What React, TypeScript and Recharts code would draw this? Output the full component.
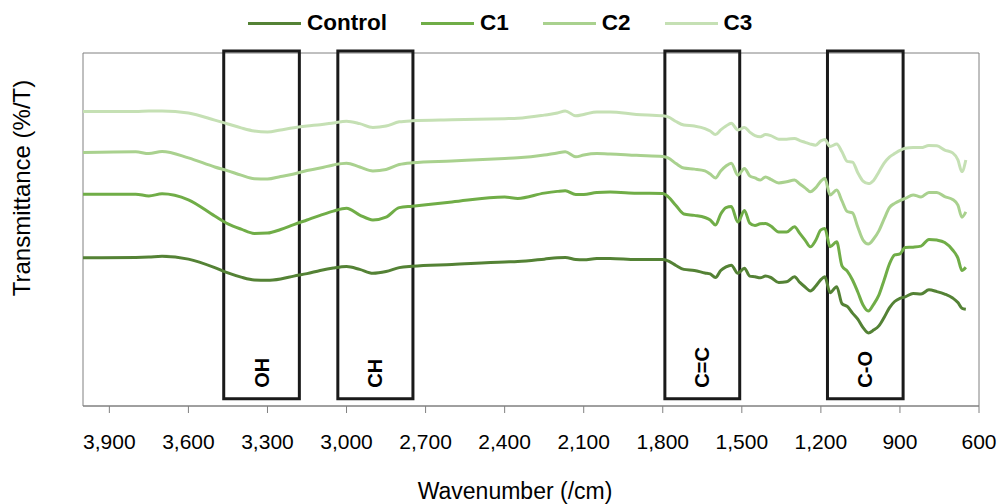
import React from 'react';
import { LineChart, Line, XAxis, YAxis, ReferenceArea, Legend, Label } from 'recharts';

// wavenumber (cm-1) sample positions
const wavenumbers = [
  4000, 3800, 3750, 3700, 3600, 3500, 3450, 3400, 3350, 3300,
  3250, 3200, 3150, 3100, 3050, 3000, 2950, 2900, 2850, 2800,
  2750, 2600, 2400, 2350, 2250, 2200, 2170, 2130, 2100, 2050,
  2000, 1900, 1800, 1780, 1750, 1720, 1680, 1640, 1620, 1600,
  1580, 1560, 1540, 1515, 1490, 1470, 1450, 1430, 1410, 1390,
  1360, 1330, 1300, 1280, 1260, 1240, 1220, 1200, 1185, 1165,
  1140, 1120, 1100, 1080, 1060, 1040, 1020, 1000, 980, 960,
  940, 920, 900, 880, 850, 820, 790, 760, 730, 700,
  680, 665, 650,
];

const control = [
  42.0, 42.1, 42.2, 42.4, 41.6, 39.2, 37.7, 36.5, 35.7, 35.6,
  36.0, 36.8, 37.5, 38.4, 39.1, 39.5, 38.7, 37.6, 38.1, 39.2,
  39.6, 40.1, 40.8, 40.9, 41.6, 42.0, 42.1, 41.5, 41.4, 41.8,
  41.8, 41.5, 41.5, 41.1, 39.8, 38.7, 38.4, 37.7, 37.4, 36.4,
  38.4, 39.4, 39.9, 37.6, 39.0, 36.8, 36.6, 36.3, 36.8, 36.4,
  35.0, 35.2, 36.6, 35.0, 33.7, 32.6, 33.9, 35.8, 36.6, 32.1,
  33.8, 29.0, 28.2, 26.3, 24.6, 22.2, 20.7, 21.5, 22.7, 25.1,
  27.8, 29.6, 30.5, 30.9, 31.9, 31.7, 32.9, 32.4, 31.7, 30.6,
  29.3, 27.7, 27.4,
];

const c1 = [
  60.0, 60.0, 59.5, 60.1, 58.4, 53.8, 51.6, 50.1, 48.9, 49.0,
  50.0, 51.4, 52.7, 54.0, 55.2, 56.0, 54.1, 52.7, 53.5, 56.2,
  56.6, 57.8, 59.2, 58.8, 60.3, 60.8, 61.0, 59.9, 59.9, 60.5,
  60.6, 60.3, 60.2, 59.3, 56.8, 54.4, 54.0, 53.4, 52.7, 51.3,
  54.4, 56.2, 56.5, 52.1, 55.4, 51.8, 51.1, 51.6, 51.7, 51.0,
  49.3, 49.3, 50.8, 48.9, 47.0, 45.1, 46.9, 49.9, 50.3, 45.1,
  46.5, 39.7, 38.2, 35.7, 32.3, 28.6, 26.9, 28.8, 31.4, 35.7,
  40.2, 42.8, 43.1, 44.9, 45.0, 45.3, 47.2, 47.0, 46.3, 44.2,
  41.9, 38.4, 39.3,
];

const c2 = [
  71.8, 72.0, 71.5, 72.1, 70.3, 67.7, 66.6, 65.4, 64.4, 64.3,
  65.0, 65.7, 66.7, 67.4, 68.3, 68.8, 67.7, 66.6, 67.0, 68.4,
  68.9, 69.4, 70.1, 70.3, 71.1, 71.7, 72.0, 70.6, 71.1, 71.5,
  71.4, 71.0, 70.7, 70.3, 68.7, 67.4, 67.1, 66.6, 65.7, 64.6,
  66.6, 68.0, 68.8, 65.4, 67.3, 65.2, 64.6, 64.0, 64.9, 64.2,
  63.2, 63.5, 64.0, 62.9, 61.8, 60.7, 61.8, 63.7, 64.5, 59.8,
  61.2, 58.1, 55.1, 54.7, 50.7, 47.0, 45.9, 47.3, 49.6, 53.0,
  56.2, 57.4, 58.2, 58.8, 59.8, 59.2, 60.5, 60.5, 59.3, 58.5,
  56.9, 53.5, 55.0,
];

const c3 = [
  83.4, 83.4, 83.6, 83.6, 83.0, 81.0, 79.9, 78.8, 77.9, 77.6,
  78.2, 78.8, 79.3, 79.7, 80.2, 80.7, 80.0, 78.9, 79.3, 80.5,
  80.8, 81.1, 81.4, 81.5, 82.4, 83.0, 83.6, 82.2, 82.6, 83.3,
  83.3, 82.6, 82.2, 81.9, 80.6, 79.6, 79.3, 78.6, 77.9, 76.9,
  78.2, 79.3, 80.1, 78.2, 78.9, 77.6, 76.6, 76.3, 76.9, 76.6,
  75.6, 75.6, 75.8, 75.2, 74.7, 74.2, 73.9, 75.1, 75.5, 73.5,
  74.2, 72.0, 69.3, 69.1, 66.1, 63.7, 63.0, 63.9, 66.3, 68.8,
  70.5, 71.5, 72.4, 73.0, 73.2, 73.2, 73.8, 73.7, 72.5, 71.7,
  69.7, 66.4, 69.7,
];

const xTicks = [3900, 3600, 3300, 3000, 2700, 2400, 2100, 1800, 1500, 1200, 900, 600];

// functional group bands: label, from, to (cm-1)
const bandLabels = ['OH', 'CH', 'C=C', 'C-O'];
const bandFrom = [3466, 3033, 1792, 1175];
const bandTo = [3179, 2748, 1508, 888];

const series = [
  { key: 'control', name: 'Control', color: '#548235' },
  { key: 'c1', name: 'C1', color: '#70AD47' },
  { key: 'c2', name: 'C2', color: '#A9D18E' },
  { key: 'c3', name: 'C3', color: '#C5E0B4' },
];

const data = wavenumbers.map((w, i) => ({
  w,
  control: control[i],
  c1: c1[i],
  c2: c2[i],
  c3: c3[i],
}));

const sans = '"Liberation Sans", Arial, sans-serif';

function WaveTick({ x, y, payload }: any) {
  return (
    <text x={x} y={y + 36} textAnchor="middle" fontFamily={sans} fontSize={21} fill="#000">
      {Number(payload.value).toLocaleString('en-US')}
    </text>
  );
}

function BandLabel({ viewBox, text }: any) {
  const cx = viewBox.x + viewBox.width / 2 + 7;
  const by = viewBox.y + viewBox.height - 11;
  return (
    <text
      x={cx}
      y={by}
      transform={`rotate(-90 ${cx} ${by})`}
      textAnchor="start"
      fontFamily={sans}
      fontWeight="bold"
      fontSize={20}
      fill="#000"
    >
      {text}
    </text>
  );
}

// legend drawn from the series list so the order stays Control, C1, C2, C3
function LegendContent() {
  return (
    <div style={{ display: 'flex', alignItems: 'center', paddingLeft: 248, height: 32 }}>
      {series.map((s) => (
        <div key={s.key} style={{ display: 'flex', alignItems: 'center', marginRight: 34 }}>
          <div style={{ width: 53, height: 3, background: s.color, marginRight: 6 }} />
          <span style={{ fontFamily: sans, fontWeight: 'bold', fontSize: 22.5, color: '#000' }}>{s.name}</span>
        </div>
      ))}
    </div>
  );
}

export default function App() {
  return (
    <div style={{ position: 'absolute', left: 0, top: 0, background: '#fff' }}>
      <LineChart width={998} height={504} data={data} margin={{ top: 53, right: 19, bottom: 0, left: 0 }}>
        <XAxis
          dataKey="w"
          type="number"
          domain={[600, 4000]}
          reversed
          ticks={xTicks}
          interval={0}
          tickSize={7}
          tickMargin={0}
          height={98}
          stroke="#808080"
          tick={<WaveTick />}
        >
          <Label
            content={() => (
              <text x={515} y={499} textAnchor="middle" fontFamily={sans} fontSize={23} fill="#000">
                Wavenumber (/cm)
              </text>
            )}
          />
        </XAxis>
        <YAxis type="number" domain={[0, 100]} width={83} tick={false} axisLine={false} tickLine={false}>
          <Label
            content={() => (
              <text
                x={30}
                y={188}
                transform="rotate(-90 30 188)"
                textAnchor="middle"
                fontFamily={sans}
                fontSize={24}
                fill="#000"
              >
                Transmittance (%/T)
              </text>
            )}
          />
        </YAxis>
        <ReferenceArea x1={4000} x2={600} y1={0} y2={100} fill="none" stroke="#808080" strokeWidth={1} />
        <Legend
          layout="vertical"
          align="center"
          verticalAlign="middle"
          wrapperStyle={{ top: 7, left: 0, width: 998, height: 32 }}
          content={<LegendContent />}
        />
        {series.map((s) => (
          <Line
            key={s.key}
            dataKey={s.key}
            name={s.name}
            type="monotone"
            stroke={s.color}
            strokeWidth={3}
            dot={false}
            activeDot={false}
            isAnimationActive={false}
          />
        ))}
        {bandLabels.map((b, i) => (
          <ReferenceArea
            key={b}
            x1={bandFrom[i]}
            x2={bandTo[i]}
            y1={2.07}
            y2={100.6}
            ifOverflow="visible"
            fill="none"
            stroke="#1a1a1a"
            strokeWidth={3}
            label={<BandLabel text={b} />}
          />
        ))}
      </LineChart>
    </div>
  );
}
